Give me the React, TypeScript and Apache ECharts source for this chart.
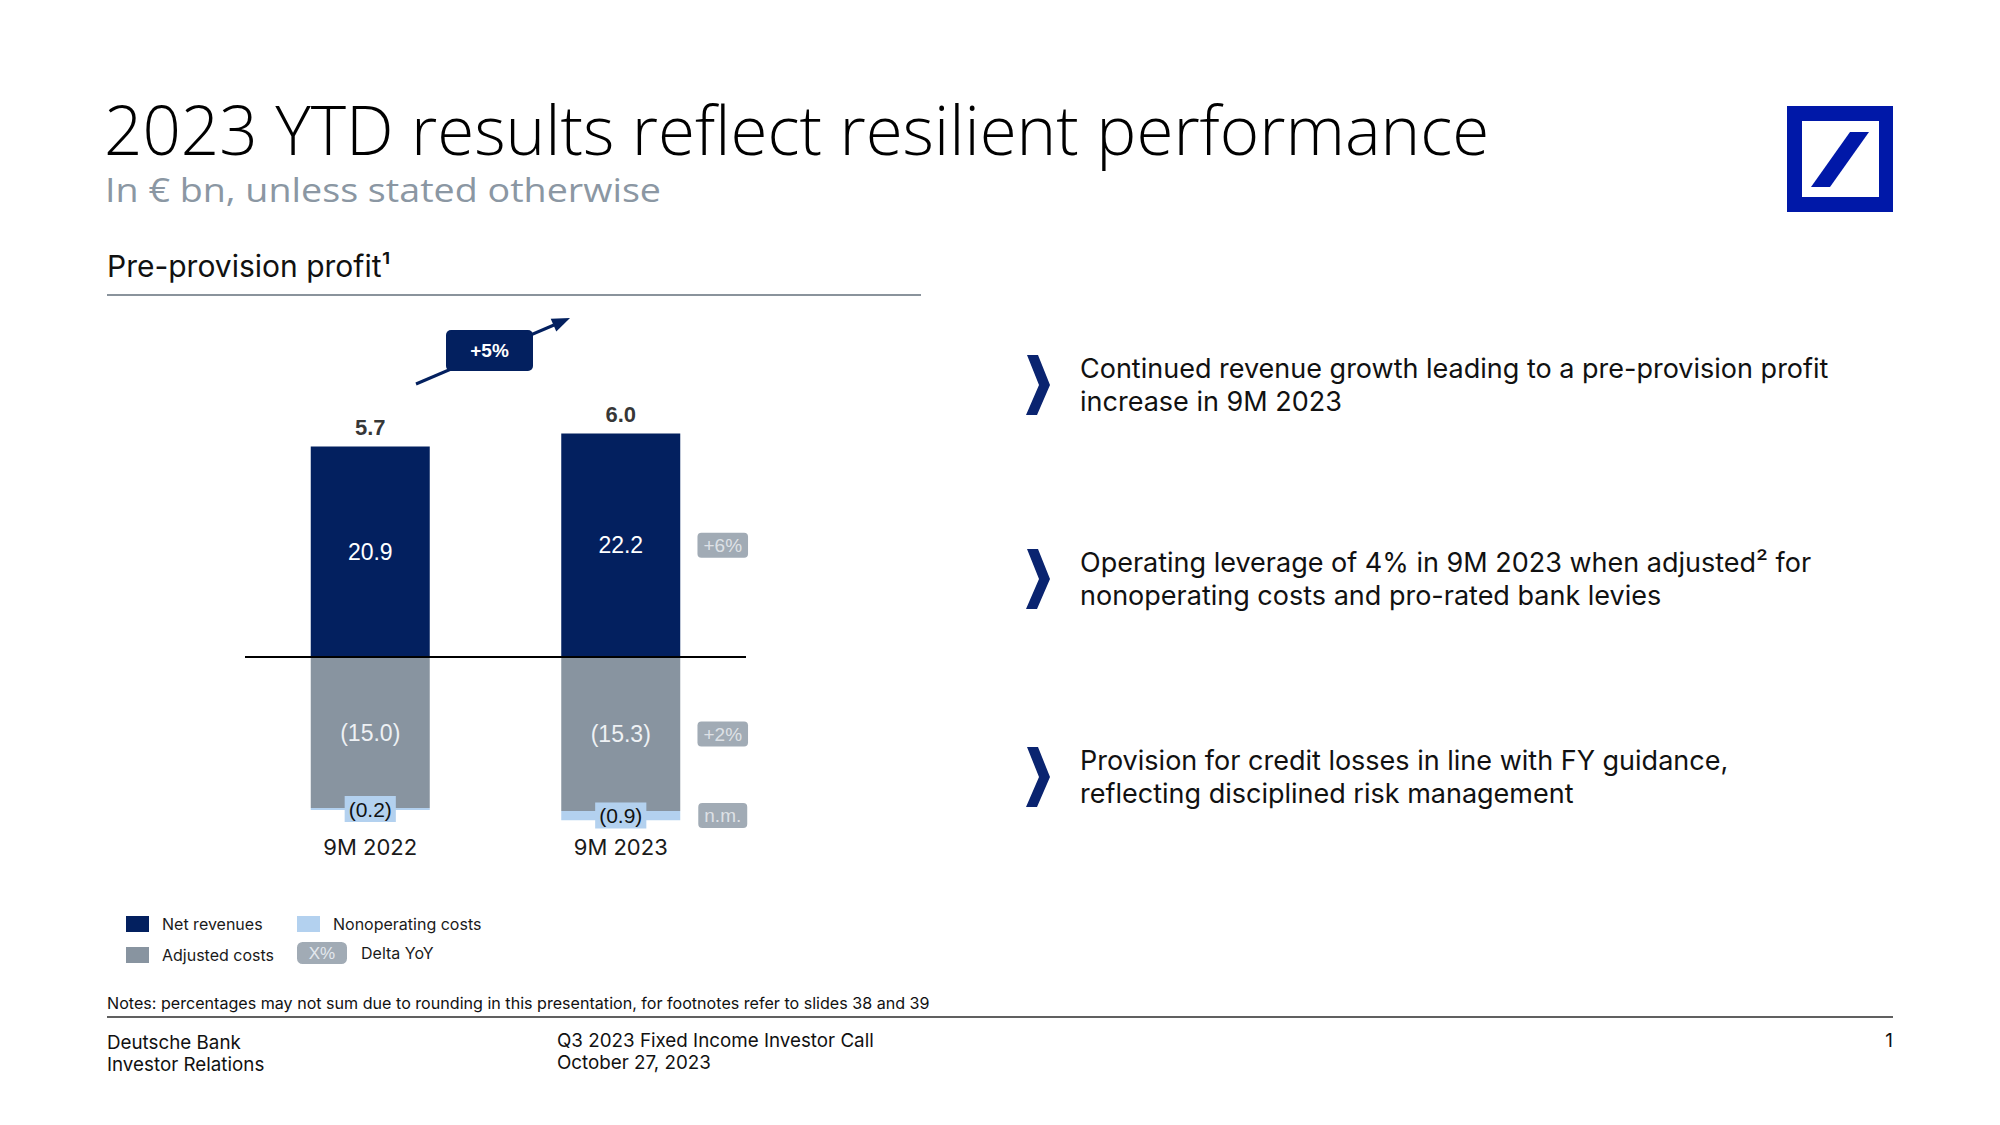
import React, { useEffect, useRef } from 'react';
import * as echarts from 'echarts';

// ---------- data ----------
const categories = ['9M 2022', '9M 2023'];
const netRevenues = [20.9, 22.2];
const adjustedCosts = [-15.0, -15.3];
const nonoperatingCosts = [-0.2, -0.9];
const preProvisionProfit = [5.7, 6.0];
const deltaYoY = ['+6%', '+2%', 'n.m.'];
const profitGrowth = '+5%';

const titleText = '2023 YTD results reflect resilient performance';
const subtitleText = 'In € bn, unless stated otherwise';
const chartHeading = 'Pre-provision profit¹';
const bullets = [
  'Continued revenue growth leading to a pre-provision profit\nincrease in 9M 2023',
  'Operating leverage of 4% in 9M 2023 when adjusted² for\nnonoperating costs and pro-rated bank levies',
  'Provision for credit losses in line with FY guidance,\nreflecting disciplined risk management',
];
const notesText =
  'Notes: percentages may not sum due to rounding in this presentation, for footnotes refer to slides 38 and 39';

// ---------- styles ----------
const NAVY = '#03205f';
const GREY = '#8894a0';
const LIGHT = '#b3d1ef';
const BADGE = '#8a96a2';
const CHEVRON = '#0a2470';
const DB_BLUE = '#0018a8';
const LABEL_FONT = "'Liberation Sans', Arial, sans-serif";
const BODY_FONT = "Inter, 'Liberation Sans', sans-serif";
const HEAD_FONT = "'Open Sans', 'Noto Sans', sans-serif";

function fitScale(text: string, font: string, target: number) {
  try {
    const ctx = document.createElement('canvas').getContext('2d');
    if (!ctx) return 1;
    ctx.font = font;
    const w = ctx.measureText(text).width;
    return w > 0 ? target / w : 1;
  } catch (e) {
    return 1;
  }
}

export default function App() {
  const ref = useRef<HTMLDivElement>(null);

  useEffect(() => {
    if (!ref.current) return;
    const chart = echarts.init(ref.current, undefined, { renderer: 'svg' });

    const titleScale = fitScale(titleText, `300 68px 'Open Sans'`, 1386);
    const subScale = fitScale(subtitleText, `400 32px 'Open Sans'`, 556);

    const bulletCenters = [385, 579, 777];
    const bulletGraphics: any[] = [];
    bullets.forEach((b, i) => {
      const cy = bulletCenters[i];
      bulletGraphics.push({
        type: 'polygon',
        shape: {
          points: [
            [1027, cy - 30],
            [1038, cy - 30],
            [1050, cy],
            [1037, cy + 30],
            [1026, cy + 30],
            [1039, cy],
          ],
        },
        style: { fill: CHEVRON },
      });
      bulletGraphics.push({
        type: 'text',
        x: 1080,
        y: cy,
        style: {
          text: b,
          fontFamily: BODY_FONT,
          fontSize: 27,
          lineHeight: 33,
          fill: '#111',
          align: 'left',
          verticalAlign: 'middle',
        },
      });
    });

    const legendBase = {
      orient: 'horizontal',
      padding: 0,
      selectedMode: false,
      itemWidth: 23,
      itemHeight: 16,
      icon: 'rect',
      textStyle: {
        fontFamily: BODY_FONT,
        fontSize: 16,
        color: '#1a1a1a',
        padding: [0, 0, 0, 8],
      },
    };

    const option: any = {
      animation: false,
      backgroundColor: '#ffffff',
      grid: { left: 245, width: 501, top: 415.3, height: 412.9, containLabel: false },
      xAxis: {
        type: 'category',
        data: categories,
        axisLine: { show: false },
        axisTick: { show: false },
        axisLabel: { fontFamily: BODY_FONT, fontSize: 22, color: '#1a1a1a', margin: 8 },
        splitLine: { show: false },
      },
      yAxis: { type: 'value', min: -17, max: 24, show: false },
      legend: [
        { ...legendBase, data: ['Net revenues'], left: 126, top: 916 },
        { ...legendBase, data: ['Nonoperating costs'], left: 297, top: 916 },
        { ...legendBase, data: ['Adjusted costs'], left: 126, top: 947 },
        {
          ...legendBase,
          data: [{ name: 'Delta YoY', icon: 'roundRect', itemStyle: { color: BADGE } }],
          left: 297,
          top: 942,
          itemWidth: 50,
          itemHeight: 22,
          textStyle: { ...legendBase.textStyle, padding: [0, 0, 0, 9] },
        },
      ],
      series: [
        {
          name: 'Net revenues',
          type: 'bar',
          stack: 'pp',
          barWidth: 119,
          data: netRevenues,
          itemStyle: { color: NAVY },
          label: {
            show: true,
            position: 'inside',
            color: '#ffffff',
            fontFamily: LABEL_FONT,
            fontSize: 23,
            formatter: (p: any) => Number(p.value).toFixed(1),
          },
          markLine: {
            silent: true,
            symbol: ['none', 'none'],
            label: { show: false },
            lineStyle: { color: '#000000', width: 2, type: 'solid' },
            data: [{ yAxis: 0 }],
          },
        },
        {
          name: 'Adjusted costs',
          type: 'bar',
          stack: 'pp',
          barWidth: 119,
          data: adjustedCosts,
          itemStyle: { color: GREY },
          label: {
            show: true,
            position: 'inside',
            color: '#eef1f4',
            fontFamily: LABEL_FONT,
            fontSize: 23,
            formatter: (p: any) => `(${Math.abs(p.value).toFixed(1)})`,
          },
        },
        {
          name: 'Nonoperating costs',
          type: 'bar',
          stack: 'pp',
          barWidth: 119,
          data: nonoperatingCosts,
          itemStyle: { color: LIGHT },
          label: {
            show: true,
            position: 'inside',
            color: '#111111',
            backgroundColor: LIGHT,
            padding: [3, 4, 2, 4],
            fontFamily: LABEL_FONT,
            fontSize: 21,
            formatter: (p: any) => `(${Math.abs(p.value).toFixed(1)})`,
          },
        },
        {
          name: 'Pre-provision profit',
          type: 'scatter',
          symbolSize: 0,
          data: netRevenues,
          itemStyle: { color: 'rgba(0,0,0,0)' },
          z: 6,
          label: {
            show: true,
            position: 'top',
            distance: 8,
            color: '#000000',
            fontFamily: LABEL_FONT,
            fontWeight: 'bold',
            fontSize: 22,
            formatter: (p: any) => preProvisionProfit[p.dataIndex].toFixed(1),
          },
        },
        {
          name: 'Delta YoY',
          type: 'scatter',
          symbolSize: 0,
          itemStyle: { color: BADGE },
          z: 6,
          data: [
            [categories[1], netRevenues[1] / 2],
            [categories[1], adjustedCosts[1] / 2],
            [categories[1], adjustedCosts[1] + nonoperatingCosts[1] / 2],
          ],
          label: {
            show: true,
            position: 'inside',
            offset: [102, 0],
            color: '#eef1f4',
            backgroundColor: BADGE,
            borderRadius: 4,
            padding: [3, 6, 3, 6],
            fontFamily: LABEL_FONT,
            fontSize: 19,
            formatter: (p: any) => deltaYoY[p.dataIndex],
          },
        },
      ],
      graphic: [
        // title
        {
          type: 'text',
          x: 104,
          y: 129,
          scaleX: titleScale,
          style: {
            text: titleText,
            fontFamily: HEAD_FONT,
            fontWeight: 300,
            fontSize: 68,
            fill: '#000000',
            align: 'left',
            verticalAlign: 'middle',
          },
        },
        {
          type: 'text',
          x: 105,
          y: 190,
          scaleX: subScale,
          style: {
            text: subtitleText,
            fontFamily: HEAD_FONT,
            fontSize: 32,
            fill: '#8b97a3',
            align: 'left',
            verticalAlign: 'middle',
          },
        },
        // logo
        { type: 'rect', shape: { x: 1787, y: 106, width: 106, height: 106 }, style: { fill: DB_BLUE } },
        { type: 'rect', shape: { x: 1802, y: 121, width: 77, height: 76 }, style: { fill: '#ffffff' } },
        {
          type: 'polygon',
          shape: { points: [[1850, 132], [1869, 132], [1830, 187], [1811, 187]] },
          style: { fill: DB_BLUE },
        },
        // chart heading
        {
          type: 'text',
          x: 107,
          y: 266,
          style: {
            text: chartHeading,
            fontFamily: BODY_FONT,
            fontSize: 30,
            fill: '#111111',
            align: 'left',
            verticalAlign: 'middle',
          },
        },
        {
          type: 'line',
          shape: { x1: 107, y1: 295, x2: 921, y2: 295 },
          style: { stroke: '#8a939c', lineWidth: 2 },
        },
        // growth arrow
        {
          type: 'line',
          shape: { x1: 416, y1: 384, x2: 554, y2: 325 },
          style: { stroke: NAVY, lineWidth: 3 },
        },
        {
          type: 'polygon',
          shape: { points: [[570, 318], [556.3, 331.5], [550.7, 318.7]] },
          style: { fill: NAVY },
        },
        {
          type: 'rect',
          shape: { x: 446, y: 330, width: 87, height: 41, r: 5 },
          style: { fill: NAVY },
        },
        {
          type: 'text',
          x: 489.5,
          y: 350.5,
          style: {
            text: profitGrowth,
            fontFamily: LABEL_FONT,
            fontWeight: 'bold',
            fontSize: 19,
            fill: '#ffffff',
            align: 'center',
            verticalAlign: 'middle',
          },
        },
        ...bulletGraphics,
        // legend badge text
        {
          type: 'text',
          x: 322,
          y: 953,
          z: 100,
          style: {
            text: 'X%',
            fontFamily: LABEL_FONT,
            fontSize: 17,
            fill: '#e3e8ee',
            align: 'center',
            verticalAlign: 'middle',
          },
        },
        // notes & footer
        {
          type: 'text',
          x: 107,
          y: 1003,
          style: {
            text: notesText,
            fontFamily: BODY_FONT,
            fontSize: 16.1,
            fill: '#111111',
            align: 'left',
            verticalAlign: 'middle',
          },
        },
        {
          type: 'line',
          shape: { x1: 107, y1: 1017, x2: 1893, y2: 1017 },
          style: { stroke: '#2b2b2b', lineWidth: 1.5 },
        },
        {
          type: 'text',
          x: 107,
          y: 1053,
          style: {
            text: 'Deutsche Bank\nInvestor Relations',
            fontFamily: BODY_FONT,
            fontSize: 18.8,
            lineHeight: 22,
            fill: '#111111',
            align: 'left',
            verticalAlign: 'middle',
          },
        },
        {
          type: 'text',
          x: 557,
          y: 1051,
          style: {
            text: 'Q3 2023 Fixed Income Investor Call\nOctober 27, 2023',
            fontFamily: BODY_FONT,
            fontSize: 18.8,
            lineHeight: 22,
            fill: '#111111',
            align: 'left',
            verticalAlign: 'middle',
          },
        },
        {
          type: 'text',
          x: 1893,
          y: 1040,
          style: {
            text: '1',
            fontFamily: BODY_FONT,
            fontSize: 18.8,
            fill: '#111111',
            align: 'right',
            verticalAlign: 'middle',
          },
        },
      ],
    };

    chart.setOption(option);
    return () => {
      chart.dispose();
    };
  }, []);

  return (
    <div
      ref={ref}
      style={{ position: 'absolute', left: 0, top: 0, width: 2000, height: 1125, background: '#ffffff' }}
    />
  );
}
